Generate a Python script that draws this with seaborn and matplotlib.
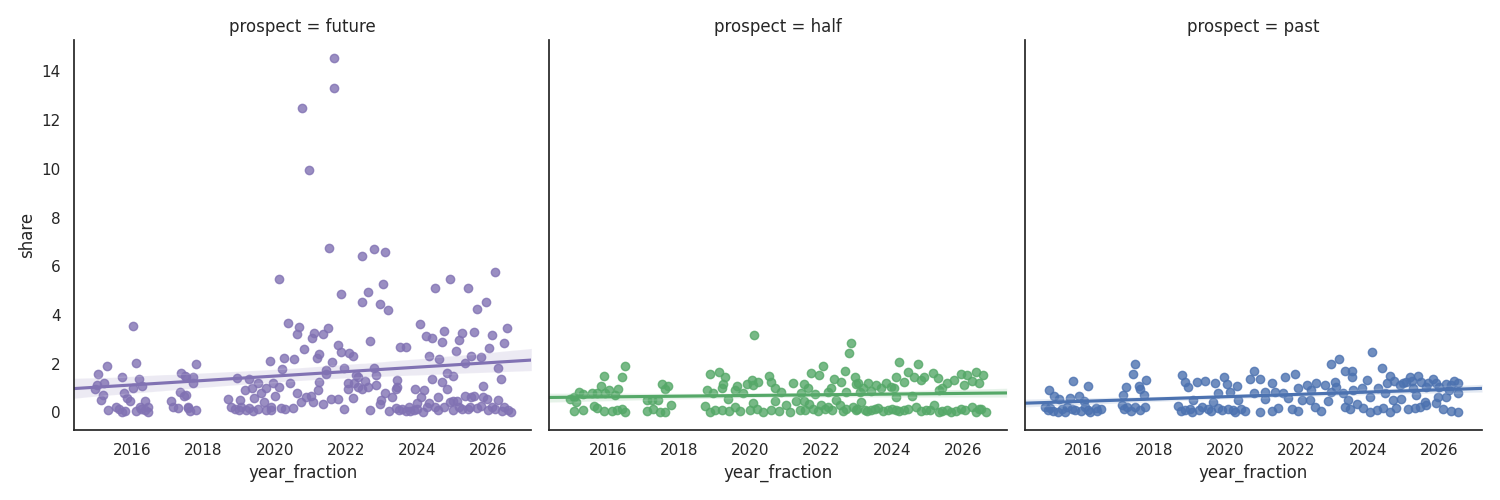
import pandas as pd
import matplotlib.pyplot as plt
import seaborn as sns

# (year_fraction, share) points, one list per prospect
future_points = [
    (2016.02, 3.55), (2015.29, 1.90), (2015.04, 1.57), (2016.10, 2.04), (2015.71, 1.44),
    (2016.19, 1.36), (2015.20, 1.22), (2014.99, 1.12), (2014.94, 0.94), (2016.28, 1.08),
    (2016.02, 0.99), (2015.18, 0.71), (2015.11, 0.51), (2015.76, 0.81), (2015.85, 0.57),
    (2015.94, 0.48), (2015.55, 0.23), (2015.62, 0.12), (2015.71, 0.00), (2016.36, 0.48),
    (2016.11, 0.07), (2016.25, 0.12), (2016.44, 0.20), (2016.44, 0.00), (2016.35, 0.09),
    (2015.30, 0.10), (2015.80, 0.05), (2016.20, 0.20),
    (2017.37, 1.60), (2017.47, 1.49), (2017.33, 0.85), (2017.45, 0.67), (2017.09, 0.48),
    (2017.14, 0.23), (2017.28, 0.16), (2017.56, 0.16), (2017.78, 1.99), (2017.51, 1.46),
    (2017.70, 1.46), (2017.70, 1.22), (2017.51, 0.71), (2017.56, 0.20), (2017.79, 0.09),
    (2017.61, 0.07),
    (2020.76, 12.49), (2020.11, 5.48), (2020.36, 3.66), (2020.69, 3.49), (2020.62, 3.22),
    (2020.81, 2.59), (2019.86, 2.11), (2020.27, 2.22), (2020.53, 2.19), (2020.20, 1.77),
    (2018.93, 1.40), (2019.27, 1.37), (2019.52, 1.19), (2019.94, 1.22), (2020.44, 1.22),
    (2019.15, 0.92), (2019.37, 0.99), (2019.76, 0.99), (2020.11, 1.03), (2019.62, 0.78),
    (2020.01, 0.67), (2020.62, 0.78), (2018.68, 0.53), (2019.01, 0.51), (2019.43, 0.58),
    (2019.71, 0.44), (2018.78, 0.23), (2019.06, 0.23), (2019.29, 0.16), (2019.52, 0.12),
    (2019.90, 0.21), (2020.18, 0.16), (2020.50, 0.16), (2018.87, 0.12), (2019.20, 0.09),
    (2019.76, 0.09), (2020.74, 0.44), (2019.00, 0.10), (2019.40, 0.05), (2019.90, 0.10),
    (2020.30, 0.15),
    (2021.67, 14.55), (2021.67, 13.32), (2020.95, 9.96), (2021.52, 6.74), (2022.44, 6.42),
    (2022.78, 6.70), (2023.11, 6.59), (2023.03, 5.27), (2021.85, 4.85), (2022.61, 4.94),
    (2022.44, 4.52), (2022.95, 4.44), (2023.19, 4.20), (2021.51, 3.48), (2021.11, 3.25),
    (2021.35, 3.21), (2021.04, 3.04), (2024.08, 3.63), (2022.68, 2.93), (2023.53, 2.70),
    (2023.70, 2.70), (2021.25, 2.38), (2021.19, 2.22), (2021.77, 2.77), (2021.85, 2.49),
    (2022.10, 2.42), (2022.19, 2.33), (2021.60, 2.08), (2021.44, 1.74), (2021.44, 1.57),
    (2021.94, 1.81), (2022.78, 1.81), (2022.86, 1.53), (2022.28, 1.53), (2022.35, 1.44),
    (2021.25, 1.26), (2022.05, 1.22), (2022.24, 1.19), (2022.55, 1.30), (2022.86, 1.12),
    (2023.45, 1.33), (2022.05, 0.95), (2022.33, 1.05), (2022.61, 1.05), (2023.45, 1.05),
    (2021.21, 0.92), (2023.95, 0.95), (2022.45, 0.95), (2023.41, 0.95), (2020.88, 0.64),
    (2021.02, 0.68), (2022.19, 0.58), (2021.58, 0.53), (2021.77, 0.53), (2023.10, 0.78),
    (2023.31, 0.64), (2022.98, 0.51), (2021.35, 0.34), (2021.07, 0.44), (2022.95, 0.34),
    (2021.94, 0.12), (2022.68, 0.09), (2023.22, 0.07), (2023.41, 0.16), (2023.59, 0.12),
    (2023.78, 0.23), (2023.92, 0.09), (2023.69, 0.07), (2023.50, 0.10), (2023.80, 0.05),
    (2026.19, 5.75), (2024.94, 5.48), (2024.51, 5.11), (2025.43, 5.11), (2025.95, 4.53),
    (2025.69, 4.23), (2026.54, 3.46), (2024.25, 3.14), (2024.43, 3.07), (2024.76, 3.34),
    (2024.69, 2.88), (2025.27, 3.25), (2025.19, 2.97), (2025.60, 3.29), (2026.12, 3.18),
    (2026.45, 2.85), (2026.03, 2.66), (2025.11, 2.52), (2024.34, 2.33), (2024.61, 2.18),
    (2025.53, 2.33), (2025.79, 2.29), (2025.35, 2.01), (2026.28, 1.81), (2024.85, 1.63),
    (2025.02, 1.49), (2026.37, 1.36), (2024.43, 1.36), (2024.20, 0.92), (2024.70, 1.23),
    (2024.85, 0.95), (2025.86, 1.08), (2024.11, 0.64), (2024.59, 0.62), (2025.02, 0.46),
    (2025.34, 0.67), (2025.51, 0.64), (2025.60, 0.67), (2025.86, 0.64), (2025.96, 0.53),
    (2026.28, 0.51), (2024.01, 0.37), (2024.34, 0.39), (2025.12, 0.48), (2024.18, 0.01),
    (2024.29, 0.23), (2024.51, 0.21), (2024.76, 0.22), (2024.93, 0.44), (2025.18, 0.23),
    (2025.27, 0.12), (2025.44, 0.14), (2025.69, 0.16), (2025.79, 0.26), (2026.12, 0.23),
    (2026.19, 0.12), (2026.46, 0.23), (2026.56, 0.09), (2026.63, 0.00), (2024.00, 0.15),
    (2024.60, 0.10), (2025.00, 0.10), (2025.50, 0.20), (2026.00, 0.10), (2026.40, 0.05),
]

half_points = [
    (2016.47, 1.90), (2015.88, 1.49), (2016.39, 1.46), (2015.80, 1.09), (2015.20, 0.85),
    (2015.55, 0.78), (2015.69, 0.81), (2016.02, 0.92), (2016.30, 0.96), (2016.20, 0.71),
    (2015.92, 0.78), (2014.94, 0.53), (2015.04, 0.64), (2015.10, 0.44), (2015.62, 0.26),
    (2015.69, 0.16), (2015.04, 0.05), (2016.11, 0.05), (2016.25, 0.09), (2016.47, 0.03),
    (2015.29, 0.74), (2015.30, 0.10), (2015.90, 0.05), (2016.40, 0.12),
    (2017.51, 1.15), (2017.70, 1.09), (2017.61, 0.96), (2017.09, 0.51), (2017.23, 0.51),
    (2017.42, 0.51), (2017.78, 0.30), (2017.09, 0.07), (2017.28, 0.12), (2017.47, 0.03),
    (2017.61, 0.03),
    (2020.10, 3.18), (2022.84, 2.86), (2022.78, 2.42), (2022.05, 1.92), (2022.67, 1.70),
    (2019.13, 1.67), (2018.87, 1.56), (2019.29, 1.44), (2020.52, 1.49), (2021.70, 1.60),
    (2021.95, 1.53), (2020.04, 1.33), (2020.23, 1.26), (2020.60, 1.26), (2021.21, 1.22),
    (2022.36, 1.36), (2022.56, 1.26), (2022.94, 1.46), (2019.23, 1.16), (2019.62, 1.08),
    (2019.90, 1.16), (2020.09, 1.12), (2021.53, 1.15), (2022.98, 1.16), (2018.78, 0.92),
    (2019.20, 0.99), (2019.57, 0.92), (2020.69, 0.99), (2021.63, 0.99), (2022.28, 0.99),
    (2018.96, 0.78), (2019.80, 0.78), (2020.88, 0.85), (2021.44, 0.78), (2021.82, 0.75),
    (2022.19, 0.85), (2022.70, 0.85), (2019.38, 0.55), (2020.69, 0.48), (2021.30, 0.48),
    (2021.53, 0.48), (2022.42, 0.51), (2018.73, 0.26), (2020.08, 0.37), (2021.02, 0.30),
    (2021.67, 0.34), (2022.00, 0.30), (2022.19, 0.21), (2022.52, 0.30), (2022.89, 0.21),
    (2018.87, 0.00), (2019.20, 0.09), (2019.57, 0.21), (2019.71, 0.05), (2019.99, 0.09),
    (2020.36, 0.03), (2020.60, 0.09), (2021.11, 0.03), (2021.39, 0.09), (2021.77, 0.12),
    (2022.70, 0.12), (2022.98, 0.09), (2019.00, 0.10), (2019.40, 0.05), (2020.20, 0.12),
    (2020.80, 0.05), (2021.55, 0.10), (2021.90, 0.05), (2022.10, 0.12), (2022.30, 0.08),
    (2022.60, 0.05),
    (2024.20, 2.08), (2024.71, 1.99), (2024.45, 1.64), (2025.15, 1.60), (2025.93, 1.57),
    (2026.11, 1.53), (2026.35, 1.64), (2026.54, 1.53), (2024.90, 1.46), (2024.11, 1.44),
    (2024.62, 1.44), (2025.27, 1.40), (2024.34, 1.26), (2025.74, 1.33), (2026.25, 1.29),
    (2023.03, 1.19), (2023.31, 1.19), (2023.55, 1.12), (2023.83, 1.19), (2023.97, 1.05),
    (2024.81, 1.33), (2025.55, 1.19), (2026.02, 1.12), (2026.44, 1.19), (2023.17, 0.99),
    (2023.69, 0.99), (2024.06, 1.01), (2025.41, 0.99), (2023.08, 0.85), (2023.41, 0.89),
    (2025.32, 0.92), (2024.11, 0.64), (2024.54, 0.67), (2023.12, 0.44), (2023.22, 0.09),
    (2023.59, 0.16), (2023.87, 0.09), (2024.34, 0.09), (2024.67, 0.21), (2024.95, 0.09),
    (2025.18, 0.30), (2025.41, 0.07), (2025.65, 0.03), (2025.93, 0.12), (2026.25, 0.21),
    (2026.44, 0.12), (2026.63, 0.00), (2023.41, 0.09), (2024.11, 0.09), (2023.00, 0.15),
    (2023.30, 0.05), (2023.50, 0.12), (2023.75, 0.06), (2024.00, 0.12), (2024.20, 0.05),
    (2024.45, 0.12), (2024.80, 0.06), (2025.05, 0.10), (2025.30, 0.03), (2025.55, 0.10),
    (2025.80, 0.05), (2026.05, 0.08), (2026.35, 0.03), (2026.50, 0.15),
]

past_points = [
    (2017.47, 1.99), (2017.39, 1.57), (2015.71, 1.29), (2016.13, 1.08), (2017.78, 1.33),
    (2017.21, 1.03), (2017.56, 1.08), (2017.61, 0.96), (2015.04, 0.92), (2015.18, 0.67),
    (2015.32, 0.53), (2015.64, 0.58), (2015.88, 0.67), (2016.02, 0.48), (2017.12, 0.71),
    (2017.70, 0.71), (2014.94, 0.23), (2015.08, 0.16), (2015.29, 0.03), (2015.55, 0.21),
    (2015.78, 0.09), (2016.06, 0.21), (2016.20, 0.03), (2016.49, 0.12), (2016.35, 0.16),
    (2017.09, 0.30), (2017.23, 0.21), (2017.47, 0.21), (2017.75, 0.21),
    (2015.00, 0.10), (2015.15, 0.05), (2015.40, 0.12), (2015.50, 0.02), (2015.70, 0.15),
    (2015.95, 0.05), (2016.15, 0.10), (2016.40, 0.05), (2017.15, 0.12), (2017.35, 0.05),
    (2017.60, 0.10),
    (2018.68, 0.26), (2022.96, 1.99), (2020.79, 1.70), (2018.78, 1.53), (2021.95, 1.57),
    (2021.67, 1.44), (2019.97, 1.46), (2020.69, 1.36), (2020.97, 1.36), (2018.87, 1.26),
    (2019.20, 1.26), (2019.43, 1.29), (2019.71, 1.22), (2021.30, 1.19), (2018.96, 1.05),
    (2020.04, 1.16), (2020.32, 1.08), (2022.28, 1.12), (2022.56, 1.22), (2022.80, 1.12),
    (2019.80, 0.81), (2020.13, 0.85), (2020.79, 0.81), (2021.11, 0.85), (2021.39, 0.85),
    (2021.63, 0.81), (2022.05, 0.99), (2022.42, 0.92), (2022.98, 0.85), (2019.10, 0.51),
    (2019.66, 0.44), (2020.36, 0.51), (2021.11, 0.53), (2021.77, 0.58), (2022.14, 0.51),
    (2022.38, 0.51), (2022.89, 0.48), (2018.87, 0.09), (2019.06, 0.03), (2019.34, 0.21),
    (2019.52, 0.12), (2019.80, 0.16), (2020.08, 0.12), (2020.27, 0.03), (2020.55, 0.05),
    (2020.97, 0.03), (2021.30, 0.05), (2021.49, 0.16), (2021.86, 0.12), (2022.05, 0.07),
    (2022.52, 0.21), (2022.70, 0.07), (2018.75, 0.05), (2019.00, 0.15), (2019.25, 0.08),
    (2019.60, 0.05), (2019.90, 0.10), (2020.20, 0.08), (2020.45, 0.12),
    (2024.12, 2.47), (2023.20, 2.19), (2024.39, 1.81), (2023.36, 1.70), (2023.55, 1.70),
    (2023.55, 1.46), (2023.97, 1.33), (2024.62, 1.50), (2025.18, 1.46), (2025.41, 1.50),
    (2024.54, 1.22), (2024.90, 1.12), (2025.09, 1.26), (2025.51, 1.26), (2025.83, 1.36),
    (2025.93, 1.19), (2026.21, 1.16), (2026.44, 1.29), (2023.08, 1.26), (2023.11, 1.05),
    (2023.59, 0.92), (2023.83, 0.99), (2024.29, 0.99), (2025.27, 0.99), (2025.65, 1.05),
    (2026.54, 0.81), (2026.30, 0.92), (2023.31, 0.78), (2024.06, 0.64), (2024.48, 0.78),
    (2024.71, 0.51), (2024.95, 0.55), (2025.37, 0.71), (2025.60, 0.44), (2025.97, 0.64),
    (2026.21, 0.64), (2023.45, 0.51), (2023.69, 0.34), (2023.36, 0.21), (2023.50, 0.12),
    (2023.87, 0.16), (2024.06, 0.03), (2024.25, 0.09), (2024.43, 0.16), (2024.62, 0.03),
    (2024.81, 0.16), (2025.13, 0.12), (2025.32, 0.16), (2025.46, 0.21), (2025.65, 0.30),
    (2025.93, 0.39), (2026.12, 0.12), (2026.35, 0.07), (2026.54, 0.03),
    (2024.75, 1.30), (2025.00, 1.20), (2025.25, 1.30), (2025.70, 1.20), (2026.00, 1.05),
    (2026.35, 1.10), (2026.55, 1.20),
]

prospects = ["future", "half", "past"]
colors = ["#8172B3", "#55A868", "#4C72B0"]

#%%
# long-format frame for lmplot
frames = []
for name, pts in zip(prospects, [future_points, half_points, past_points]):
    df = pd.DataFrame(pts, columns=["year_fraction", "share"])
    df["prospect"] = name
    frames.append(df)
data = pd.concat(frames, ignore_index=True)

#%%
sns.set_theme(style="white")

g = sns.lmplot(
    data=data, x="year_fraction", y="share",
    col="prospect", hue="prospect",
    col_order=prospects, hue_order=prospects, palette=colors,
    height=5, aspect=1, truncate=False, seed=0,
)
g.figure.savefig("out.png", dpi=100)
